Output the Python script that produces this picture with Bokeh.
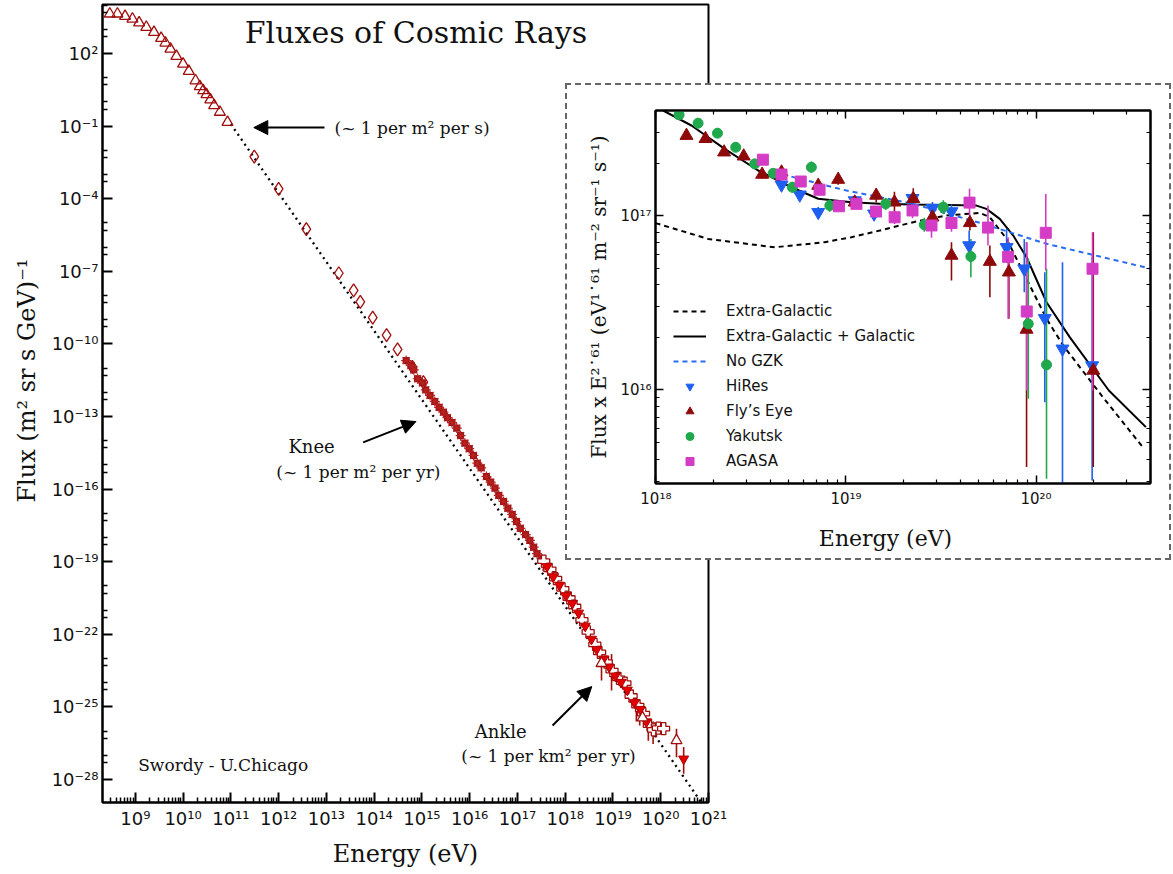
import numpy as np
from bokeh.plotting import figure
from bokeh.models import (FixedTicker, CustomJSTickFormatter, LogAxis, Arrow,
                          NormalHead, Label, Legend, LegendItem, Column, Div)
from bokeh.embed import file_html
from bokeh.resources import INLINE

# ---------------- main plot data: log10(E/eV), log10(flux) ----------------
low_logE = [8.465, 8.625, 8.785, 8.94, 9.08, 9.23, 9.39, 9.54, 9.63, 9.735, 9.86,
            10.0, 10.12, 10.26, 10.35, 10.42, 10.49, 10.57, 10.65, 10.77, 10.93]
low_logF = [3.64, 3.64, 3.54, 3.43, 3.27, 3.09, 2.88, 2.63, 2.44, 2.19, 1.89,
            1.57, 1.27, 0.88, 0.64, 0.47, 0.31, 0.09, -0.15, -0.42, -0.84]

dia_logE = [11.49, 12.0, 12.58, 13.26, 13.57, 13.71, 13.97, 14.26, 14.49, 14.80, 15.03]
dia_logF = [-2.26, -3.59, -5.26, -7.08, -7.79, -8.26, -8.91, -9.64, -10.23, -10.95, -11.58]

knee_logE = [14.67, 14.77, 14.83, 14.91, 15.01, 15.08, 15.17, 15.27, 15.36, 15.45, 15.535,
             15.63, 15.73, 15.81, 15.90, 15.99, 16.08, 16.16, 16.24, 16.35, 16.44, 16.53,
             16.61, 16.71, 16.80, 16.89, 16.98, 17.06, 17.17, 17.26, 17.34, 17.41, 17.51, 17.60]
knee_logF = [-10.69, -10.89, -11.07, -11.44, -11.61, -11.90, -12.13, -12.38, -12.62, -12.82, -13.05,
             -13.25, -13.48, -13.79, -14.10, -14.33, -14.61, -14.93, -15.12, -15.48, -15.71, -15.96,
             -16.26, -16.51, -16.79, -17.05, -17.34, -17.62, -17.88, -18.12, -18.40, -18.67, -18.88, -19.23]

inv_logE = [17.62, 17.75, 17.88, 18.02, 18.15, 18.28, 18.42, 18.55, 18.66, 18.80, 18.92,
            19.05, 19.17, 19.30, 19.45, 19.57, 19.70, 20.48]
inv_logF = [-19.20, -19.62, -19.97, -20.40, -20.72, -21.12, -21.66, -22.20, -22.62, -23.02, -23.35,
            -23.72, -23.98, -24.30, -24.82, -25.10, -25.62, -27.15]

plus_logE = [17.55, 17.68, 17.80, 17.95, 18.08, 18.20, 18.35, 18.48, 18.62, 18.72, 18.86,
             18.98, 19.12, 19.25, 19.38, 19.52, 19.64, 19.76, 19.85, 19.95, 20.06]
plus_logF = [-18.98, -19.32, -19.70, -20.12, -20.50, -20.85, -21.40, -21.90, -22.42, -22.75, -23.15,
             -23.50, -23.82, -24.02, -24.55, -24.95, -25.28, -25.75, -25.95, -25.88, -25.90]

otri_logE = [18.76, 19.62, 20.33]
otri_logF = [-23.20, -25.45, -26.39]

eb_logE = [18.76, 18.97, 19.49, 19.56, 19.74, 19.84, 19.91, 20.33, 20.48]
eb_lo = [-23.91, -24.32, -25.60, -25.77, -26.40, -26.53, -26.25, -27.08, -27.76]
eb_hi = [-22.53, -22.81, -24.74, -24.90, -25.56, -25.60, -25.63, -25.90, -26.66]

fit_logE = [11.0, 20.85]
fit_logF = [-0.92, -28.95]

# ---------------- inset data: log10(E/eV), log10(flux x E^2.61) ----------------
hr_logE = [18.661, 18.757, 18.854, 19.046, 19.148, 19.350, 19.455, 19.555, 19.648, 19.845, 19.938, 20.046, 20.139, 20.295]
hr_logY = [17.176, 17.119, 17.019, 17.086, 17.010, 17.099, 17.042, 17.023, 16.828, 16.818, 16.695, 16.411, 16.236, 16.140]
hr_lo = [17.150, 17.094, 16.989, 17.056, 16.980, 17.064, 17.007, 16.983, 16.771, 16.732, 16.560, 15.930, 15.464, 15.481]
hr_hi = [17.201, 17.144, 17.049, 17.116, 17.040, 17.134, 17.077, 17.063, 16.914, 16.924, 16.866, 16.675, 16.732, 16.765]

fe_logE = [18.161, 18.261, 18.359, 18.462, 18.559, 18.661, 18.854, 18.959, 19.046, 19.159, 19.255, 19.354, 19.455, 19.555, 19.652, 19.757, 19.857, 19.950, 20.301]
fe_logY = [17.458, 17.440, 17.363, 17.340, 17.235, 17.248, 17.172, 17.206, 17.076, 17.115, 17.076, 17.096, 16.990, 16.771, 16.958, 16.736, 16.675, 16.347, 16.112]
fe_lo = [17.438, 17.420, 17.343, 17.318, 17.212, 17.222, 17.145, 17.176, 17.046, 17.075, 17.016, 17.040, 16.940, 16.628, 16.914, 16.532, 16.408, 15.558, 15.558]
fe_hi = [17.478, 17.460, 17.383, 17.362, 17.258, 17.274, 17.199, 17.236, 17.106, 17.155, 17.136, 17.156, 17.040, 16.847, 17.000, 16.828, 16.742, 16.847, 16.904]

yk_logE = [18.122, 18.222, 18.324, 18.420, 18.520, 18.617, 18.718, 18.818, 18.915, 19.209, 19.412, 19.512, 19.657, 19.959, 20.055]
yk_logY = [17.577, 17.529, 17.472, 17.391, 17.296, 17.242, 17.162, 17.277, 17.057, 17.067, 16.947, 17.048, 16.765, 16.379, 16.144]
yk_lo = [17.550, 17.502, 17.444, 17.362, 17.266, 17.212, 17.130, 17.245, 17.022, 17.032, 16.907, 17.008, 16.646, 15.950, 15.491]
yk_hi = [17.604, 17.556, 17.500, 17.420, 17.326, 17.272, 17.194, 17.309, 17.092, 17.102, 16.987, 17.088, 16.866, 16.752, 16.695]

ag_logE = [18.563, 18.661, 18.762, 18.861, 18.963, 19.055, 19.158, 19.256, 19.350, 19.450, 19.555, 19.650, 19.747, 19.853, 19.951, 20.051, 20.297]
ag_logY = [17.320, 17.235, 17.195, 17.148, 17.053, 17.067, 17.023, 16.990, 17.029, 16.943, 16.957, 17.074, 16.931, 16.763, 16.450, 16.901, 16.695]
ag_lo = [17.300, 17.213, 17.172, 17.123, 17.026, 17.037, 16.991, 16.952, 16.985, 16.873, 16.907, 17.000, 16.828, 16.408, 15.997, 16.685, 15.997]
ag_hi = [17.340, 17.257, 17.218, 17.173, 17.080, 17.097, 17.055, 17.028, 17.073, 17.013, 17.007, 17.153, 17.057, 16.876, 16.847, 17.124, 16.904]

sol_logE = [18.038, 18.187, 18.362, 18.538, 18.713, 18.854, 19.029, 19.178, 19.354, 19.529, 19.687, 19.739, 19.809, 19.880, 19.950, 20.055, 20.177, 20.383, 20.578]
sol_logY = [17.602, 17.516, 17.382, 17.258, 17.162, 17.096, 17.076, 17.067, 17.063, 17.061, 17.057, 17.038, 16.981, 16.885, 16.761, 16.503, 16.303, 15.997, 15.787]

eg_logE = [17.998, 18.012, 18.275, 18.625, 18.888, 19.029, 19.178, 19.354, 19.529, 19.704, 19.757, 19.845, 19.950, 20.055, 20.143, 20.345, 20.568]
eg_logY = [16.956, 16.952, 16.866, 16.818, 16.847, 16.876, 16.914, 16.962, 17.000, 17.015, 16.990, 16.866, 16.637, 16.408, 16.255, 15.968, 15.663]

gz_logE = [18.713, 19.003, 19.354, 19.704, 20.055, 20.605]
gz_logY = [17.223, 17.143, 17.067, 16.958, 16.838, 16.695]

legend_labels = ["Extra-Galactic", "Extra-Galactic + Galactic", "No GZK",
                 "HiRes", "Fly\u2019s Eye", "Yakutsk", "AGASA"]


def P(a):
    return list(10.0 ** np.asarray(a, dtype=float))


SUP_JS = """
const m = {"-":"\u207b","0":"\u2070","1":"\u00b9","2":"\u00b2","3":"\u00b3","4":"\u2074",
           "5":"\u2075","6":"\u2076","7":"\u2077","8":"\u2078","9":"\u2079"};
const e = Math.round(Math.log10(tick));
return "10" + String(e).split("").map(c => m[c]).join("");
"""
BLANK_JS = "return '';"

DR = "#a00d0d"
RED = "#e40000"
SERIF = "DejaVu Serif"
SANS = "DejaVu Sans"

# ---------------- main figure ----------------
main = figure(width=731, height=874, x_axis_type="log", y_axis_type="log",
              x_range=(10 ** 8.3125, 1e21), y_range=(10 ** -28.95, 10 ** 4.025),
              output_backend="svg", toolbar_location=None,
              min_border_left=100, min_border_right=22, min_border_top=4, min_border_bottom=72)
main.xgrid.visible = False
main.ygrid.visible = False
main.outline_line_color = "black"
main.outline_line_width = 2
main.outline_line_alpha = 1.0

mx_major = [10.0 ** k for k in range(9, 22)]
mx_minor = [d * 10.0 ** k for k in range(8, 21) for d in range(2, 10)]
my_major = [10.0 ** k for k in range(2, -29, -3)]
my_minor = [f * 10.0 ** (m + o) for m in range(5, -29, -3)
            for (f, o) in [(1, -1), (5, -2), (1, -2), (5, -3)]]

main.xaxis.ticker = FixedTicker(ticks=mx_major, minor_ticks=mx_minor)
main.yaxis.ticker = FixedTicker(ticks=my_major, minor_ticks=my_minor)
for ax in (main.xaxis, main.yaxis):
    ax.formatter = CustomJSTickFormatter(code=SUP_JS)
    ax.major_tick_in = 10
    ax.major_tick_out = 0
    ax.minor_tick_in = 5
    ax.minor_tick_out = 0
    ax.axis_line_width = 2
    ax.major_tick_line_width = 2
    ax.minor_tick_line_width = 1.5
    ax.major_label_text_font = SANS
    ax.major_label_text_font_size = "18px"
    ax.major_label_text_color = "#111111"
    ax.axis_label_text_font = SERIF
    ax.axis_label_text_font_style = "normal"
    ax.axis_label_text_font_size = "24px"
    ax.axis_label_text_color = "#111111"
main.xaxis.axis_label = "Energy (eV)"
main.yaxis.axis_label = "\u00a0" * 6 + "Flux (m\u00b2 sr s GeV)\u207b\u00b9"
main.xaxis.major_label_standoff = 5
main.xaxis.axis_label_standoff = 8
main.yaxis.major_label_standoff = 4
main.yaxis.axis_label_standoff = 8

main.line(P(fit_logE), P(fit_logF), line_color="black", line_width=2.3, line_dash="2 4")
main.scatter(P(low_logE), P(low_logF), marker="triangle", size=11, fill_alpha=0,
             line_color=DR, line_width=1.3)
main.scatter(P(dia_logE), P(dia_logF), marker="diamond", size=13, fill_alpha=0,
             line_color=DR, line_width=1.3)
main.scatter(P(knee_logE), P(knee_logF), marker="square", size=6, fill_color="#8e0a0a",
             line_color="#8e0a0a")
main.scatter(P(knee_logE), P(knee_logF), marker="asterisk", size=10, line_color="#b82020",
             line_width=1.2)
main.segment(x0=P(eb_logE), y0=P(eb_lo), x1=P(eb_logE), y1=P(eb_hi), line_color=DR, line_width=1.6)
main.scatter(P(plus_logE), P(plus_logF), marker="plus", size=12, fill_color="white",
             line_color=DR, line_width=1.3)
main.scatter(P(inv_logE), P(inv_logF), marker="inverted_triangle", size=10, fill_color=RED,
             line_color="#b00000", line_width=1)
main.scatter(P(otri_logE), P(otri_logF), marker="triangle", size=11, fill_color="white",
             line_color=DR, line_width=1.3)

head = dict(size=14, fill_color="black", line_color="black")
main.add_layout(Arrow(end=NormalHead(**head), x_start=10 ** 12.96, y_start=10 ** -1.06,
                      x_end=10 ** 11.48, y_end=10 ** -1.06, line_width=2))
main.add_layout(Arrow(end=NormalHead(**head), x_start=10 ** 13.77, y_start=10 ** -14.07,
                      x_end=10 ** 14.875, y_end=10 ** -13.21, line_width=2))
main.add_layout(Arrow(end=NormalHead(**head), x_start=10 ** 17.735, y_start=10 ** -25.77,
                      x_end=10 ** 18.556, y_end=10 ** -24.16, line_width=2))


def lab(fig, x, y, text, size, align="center"):
    fig.add_layout(Label(x=x, y=y, text=text, text_font=SERIF, text_font_size=size,
                         text_align=align, text_baseline="middle", text_color="#111111"))


lab(main, 10 ** 14.875, 10 ** 2.87, "Fluxes of Cosmic Rays", "30px")
lab(main, 10 ** 13.17, 10 ** -1.06, "(~ 1 per m\u00b2 per s)", "17px", "left")
lab(main, 10 ** 12.69, 10 ** -14.24, "Knee", "18px")
lab(main, 10 ** 13.67, 10 ** -15.31, "(~ 1 per m\u00b2 per yr)", "17px")
lab(main, 10 ** 16.65, 10 ** -26.02, "Ankle", "18px")
lab(main, 10 ** 17.65, 10 ** -27.01, "(~ 1 per km\u00b2 per yr)", "17px")
lab(main, 10 ** 9.06, 10 ** -27.42, "Swordy - U.Chicago", "17px", "left")

# ---------------- inset figure ----------------
inset = figure(width=620, height=477, x_axis_type="log", y_axis_type="log",
               x_range=(10 ** 17.998, 10 ** 20.602), y_range=(10 ** 15.464, 10 ** 17.602),
               output_backend="svg", toolbar_location=None,
               min_border_left=102, min_border_right=23, min_border_top=27, min_border_bottom=77,
               styles={"position": "absolute", "left": "553px", "top": "83px",
                       "z-index": "10", "background": "white"})
inset.xgrid.visible = False
inset.ygrid.visible = False
inset.outline_line_color = "black"
inset.outline_line_width = 2
inset.outline_line_alpha = 1.0

ix_major = [1e18, 1e19, 1e20]
ix_minor = [d * 10.0 ** k for k in range(18, 21) for d in range(2, 10)]
iy_major = [1e16, 1e17]
iy_minor = [d * 10.0 ** k for k in range(15, 18) for d in range(2, 10)]


def style_inset_axis(ax, show_labels=True):
    ax.major_tick_in = 8
    ax.major_tick_out = 0
    ax.minor_tick_in = 4
    ax.minor_tick_out = 0
    ax.axis_line_width = 2
    ax.major_tick_line_width = 1.5
    ax.minor_tick_line_width = 1.2
    ax.major_label_text_font = SANS
    ax.major_label_text_font_size = "15px"
    ax.major_label_text_color = "#111111"
    ax.axis_label_text_font = SERIF
    ax.axis_label_text_font_style = "normal"
    ax.axis_label_text_color = "#111111"
    ax.formatter = CustomJSTickFormatter(code=SUP_JS if show_labels else BLANK_JS)


inset.xaxis.ticker = FixedTicker(ticks=ix_major, minor_ticks=ix_minor)
inset.yaxis.ticker = FixedTicker(ticks=iy_major, minor_ticks=iy_minor)
style_inset_axis(inset.xaxis[0])
style_inset_axis(inset.yaxis[0])
inset.xaxis.axis_label = "Energy (eV)" + "\u00a0" * 5
inset.xaxis.axis_label_text_font_size = "22px"
inset.xaxis.major_label_standoff = 6
inset.xaxis.axis_label_standoff = 15
inset.yaxis.axis_label = "Flux x E\u00b2\u02d9\u2076\u00b9 (eV\u00b9\u02d9\u2076\u00b9 m\u207b\u00b2 sr\u207b\u00b9 s\u207b\u00b9)"
inset.yaxis.axis_label_text_font_size = "20px"
inset.yaxis.major_label_standoff = 4
inset.yaxis.axis_label_standoff = 6

top_ax = LogAxis(ticker=FixedTicker(ticks=ix_major, minor_ticks=ix_minor))
style_inset_axis(top_ax, False)
inset.add_layout(top_ax, "above")
right_ax = LogAxis(ticker=FixedTicker(ticks=iy_major, minor_ticks=iy_minor))
style_inset_axis(right_ax, False)
inset.add_layout(right_ax, "right")

BLUE = "#1f5ff0"
FRED = "#8e0a0a"
GREEN = "#1fa84c"
MAG = "#d43cc6"
LBLUE = "#2a6cf0"

r_eg = inset.line(P(eg_logE), P(eg_logY), line_color="black", line_width=2, line_dash="5 4")
r_sol = inset.line(P(sol_logE), P(sol_logY), line_color="black", line_width=2)
r_gz = inset.line(P(gz_logE), P(gz_logY), line_color=LBLUE, line_width=2, line_dash="5 4")

inset.segment(x0=P(hr_logE), y0=P(hr_lo), x1=P(hr_logE), y1=P(hr_hi), line_color=BLUE, line_width=1.6)
inset.segment(x0=P(fe_logE), y0=P(fe_lo), x1=P(fe_logE), y1=P(fe_hi), line_color=FRED, line_width=1.6)
inset.segment(x0=P(yk_logE), y0=P(yk_lo), x1=P(yk_logE), y1=P(yk_hi), line_color=GREEN, line_width=1.6)
inset.segment(x0=P(ag_logE), y0=P(ag_lo), x1=P(ag_logE), y1=P(ag_hi), line_color=MAG, line_width=1.6)

r_hr = inset.scatter(P(hr_logE), P(hr_logY), marker="inverted_triangle", size=13,
                     fill_color=BLUE, line_color=BLUE)
r_fe = inset.scatter(P(fe_logE), P(fe_logY), marker="triangle", size=13,
                     fill_color=FRED, line_color=FRED)
r_yk = inset.scatter(P(yk_logE), P(yk_logY), marker="circle", size=10,
                     fill_color=GREEN, line_color=GREEN)
r_ag = inset.scatter(P(ag_logE), P(ag_logY), marker="square", size=11,
                     fill_color=MAG, line_color=MAG)

legend = Legend(items=[LegendItem(label=t, renderers=[r]) for t, r in
                       zip(legend_labels, [r_eg, r_sol, r_gz, r_hr, r_fe, r_yk, r_ag])],
                location=(18, 12), label_text_font=SANS, label_text_font_size="15px",
                label_text_color="#111111", glyph_width=33, glyph_height=20,
                label_height=20, spacing=5, padding=0, margin=0, label_standoff=20,
                border_line_alpha=0, background_fill_alpha=0)
inset.add_layout(legend)

# dashed frame around the inset
box = Div(text="", width=606, height=477, margin=0,
          styles={"position": "absolute", "left": "565px", "top": "83px",
                  "border": "2px dashed #666666", "box-sizing": "border-box",
                  "z-index": "20", "pointer-events": "none", "background": "transparent"})

layout = Column(children=[main, inset, box])
open("out.html", "w").write(file_html(layout, INLINE))
